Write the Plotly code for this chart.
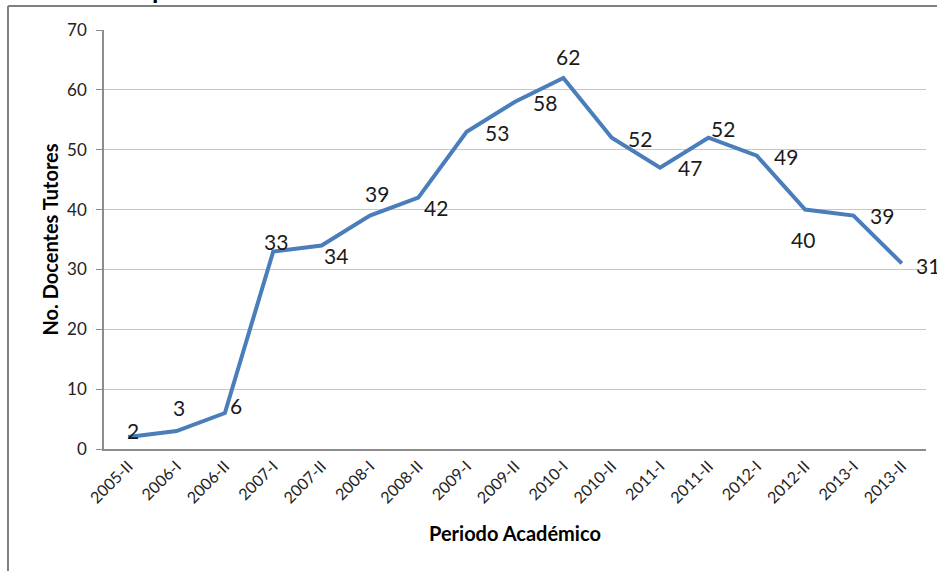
import plotly.graph_objects as go

# Academic periods and number of tutoring teachers
periodos = ["2005-II", "2006-I", "2006-II", "2007-I", "2007-II", "2008-I", "2008-II",
            "2009-I", "2009-II", "2010-I", "2010-II", "2011-I", "2011-II", "2012-I",
            "2012-II", "2013-I", "2013-II"]
docentes = [2, 3, 6, 33, 34, 39, 42, 53, 58, 62, 52, 47, 52, 49, 40, 39, 31]

# Per-label pixel nudges (right, down) so the value labels sit clear of the line
label_nudge = [(5, -7), (2, -24), (11, -8), (3, -10), (14, 10), (7, -22), (18, 10),
               (30, 1), (30, 1), (5, -21), (28, 1), (30, 0), (15, -9), (29, 1),
               (-2, 30), (29, 0), (26, 2)]

FONT = "Lato, 'Open Sans', sans-serif"
LINE_BLUE = "#4a7ebb"
GRID_BLUE = "#b3caeb"
AXIS_GREY = "#8c8c8c"

fig = go.Figure()
fig.add_trace(go.Scatter(
    x=periodos, y=docentes, mode="lines",
    line=dict(color=LINE_BLUE, width=4),
    hoverinfo="x+y", showlegend=False,
))

annotations = []
for p, v, (dx, dy) in zip(periodos, docentes, label_nudge):
    annotations.append(dict(
        x=p, y=v, xref="x", yref="y", text=str(v), showarrow=False,
        xshift=dx, yshift=-dy, font=dict(family=FONT, size=21, color="#1a1a1a"),
    ))

# Axis titles
annotations.append(dict(
    text="<b>No. Docentes Tutores</b>", textangle=-90, showarrow=False,
    xref="paper", yref="paper", x=-0.0657, y=0.5, xanchor="center", yanchor="middle",
    font=dict(family=FONT, size=20, color="#000000"),
))
annotations.append(dict(
    text="<b>Periodo Académico</b>", showarrow=False,
    xref="paper", yref="paper", x=0.5, y=-0.2005, xanchor="center", yanchor="middle",
    font=dict(family=FONT, size=20, color="#000000"),
))
# Chart title, mostly above the visible page
annotations.append(dict(
    text="<b>p</b>", showarrow=False,
    xref="paper", yref="paper", x=0.068, y=1.0555, xanchor="center", yanchor="bottom",
    font=dict(family=FONT, size=26, color="#000000"),
))

shapes = [
    # outer chart frame
    dict(type="line", xref="paper", yref="paper", x0=-0.1168, x1=-0.1168, y0=-0.4, y1=1.0573,
         line=dict(color="#808080", width=2)),
    dict(type="line", xref="paper", yref="paper", x0=-0.1168, x1=1.05, y0=1.0573, y1=1.0573,
         line=dict(color="#808080", width=2)),
]

fig.update_layout(
    width=937, height=571,
    margin=dict(l=104, r=11, t=30, b=122),
    paper_bgcolor="white", plot_bgcolor="white",
    font=dict(family=FONT, color="#222222"),
    annotations=annotations, shapes=shapes,
    xaxis=dict(
        type="category", tickangle=-45, showgrid=False, zeroline=False,
        showline=True, linecolor=AXIS_GREY, linewidth=1.5,
        ticks="", tickfont=dict(family=FONT, size=16, color="#222222"),
        range=[-0.5, len(periodos) - 0.5],
    ),
    yaxis=dict(
        range=[0, 70], dtick=10, showgrid=True, gridcolor=GRID_BLUE, gridwidth=1,
        zeroline=False, showline=True, linecolor=AXIS_GREY, linewidth=1.5,
        ticks="outside", ticklen=6, tickcolor=AXIS_GREY, ticklabelstandoff=6,
        tickfont=dict(family=FONT, size=17, color="#222222"),
    ),
)

fig.write_html("out.html")
